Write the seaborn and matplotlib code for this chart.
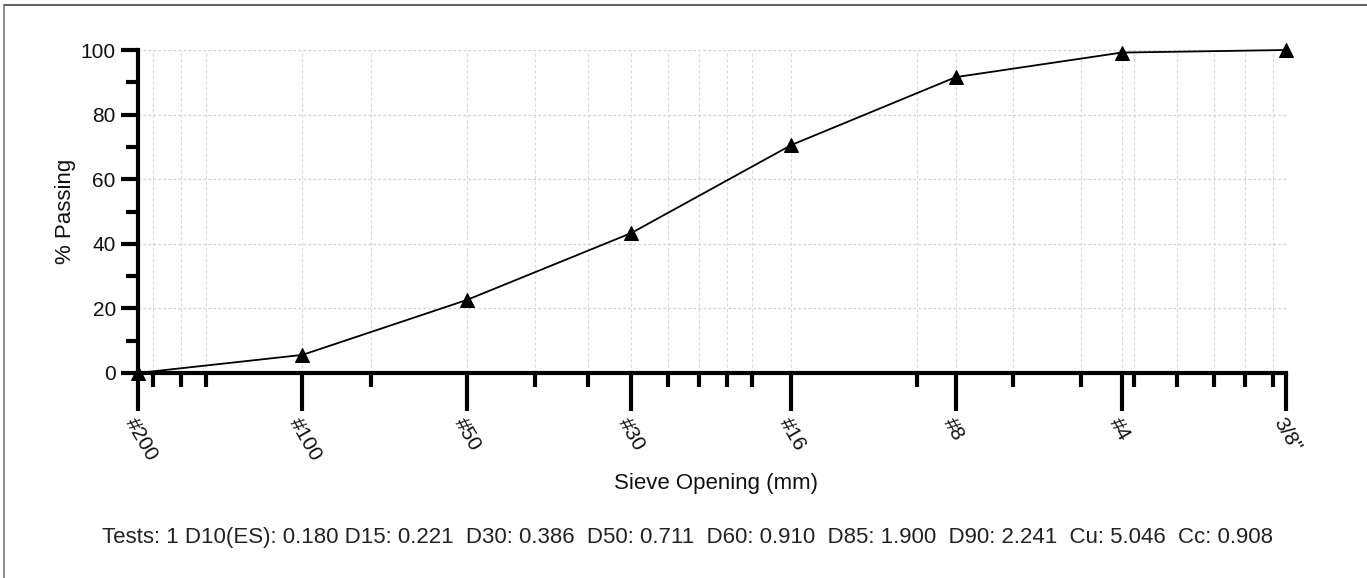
import numpy as np
import pandas as pd
import matplotlib
matplotlib.use('Agg')
import matplotlib.pyplot as plt
import matplotlib.ticker as mticker
import seaborn as sns

# sieve data
sieve_labels = ['#200', '#100', '#50', '#30', '#16', '#8', '#4', '3/8"']
sieve_mm = [0.075, 0.15, 0.3, 0.6, 1.18, 2.36, 4.75, 9.5]
passing = [0.0, 5.6, 22.6, 43.3, 70.6, 91.6, 99.2, 100.0]

footer = ('Tests: 1 D10(ES): 0.180 D15: 0.221  D30: 0.386  D50: 0.711  '
          'D60: 0.910  D85: 1.900  D90: 2.241  Cu: 5.046  Cc: 0.908')

df = pd.DataFrame({'Sieve': sieve_mm, 'Passing': passing})

sns.set_style('white')
plt.rcParams['font.family'] = ['Liberation Sans', 'DejaVu Sans']

fig = plt.figure(figsize=(13.67, 5.78), dpi=100)
ax = fig.add_axes([138 / 1367, 1 - 373 / 578, (1286 - 138) / 1367, (373 - 50) / 578])

sns.lineplot(data=df, x='Sieve', y='Passing', ax=ax, color='black', lw=1.3,
             marker='^', markersize=9.5, markeredgecolor='black', clip_on=False, zorder=5)

ax.set_xscale('log')
ax.set_xlim(sieve_mm[0], sieve_mm[-1])
ax.set_ylim(0, 100)

# x ticks
ax.xaxis.set_major_locator(mticker.FixedLocator(sieve_mm))
ax.xaxis.set_major_formatter(mticker.FixedFormatter(sieve_labels))
ax.xaxis.set_minor_locator(mticker.LogLocator(base=10, subs=np.arange(1, 10)))
ax.xaxis.set_minor_formatter(mticker.NullFormatter())
ax.tick_params(axis='x', which='major', length=27, width=3, direction='out',
               labelsize=15, pad=3, bottom=True, color='black', labelcolor='#111111')
ax.tick_params(axis='x', which='minor', length=10, width=3, direction='out',
               bottom=True, color='black')
for lbl in ax.get_xticklabels():
    lbl.set_rotation(-60)
    lbl.set_ha('left')
    lbl.set_va('top')
    lbl.set_rotation_mode('anchor')

# y ticks
ax.yaxis.set_major_locator(mticker.MultipleLocator(20))
ax.yaxis.set_minor_locator(mticker.MultipleLocator(10))
ax.tick_params(axis='y', which='major', length=12, width=3, direction='out',
               labelsize=15, pad=4, left=True, color='black', labelcolor='#111111')
ax.tick_params(axis='y', which='minor', length=9, width=3, direction='out',
               left=True, color='black')

# grid
ax.grid(True, axis='y', which='major', color='#cfcfcf', ls=(0, (2, 2)), lw=0.9)
ax.grid(True, axis='x', which='both', color='#dadada', ls=(0, (3, 2)), lw=0.8)

for s in ['top', 'right']:
    ax.spines[s].set_visible(False)
for s in ['left', 'bottom']:
    ax.spines[s].set_linewidth(3)
    ax.spines[s].set_color('black')

ax.set_xlabel('')
ax.set_ylabel('% Passing', fontsize=16, color='#111111')
ax.yaxis.set_label_coords(-0.054, 0.5)

fig.text(716 / 1367, 1 - 483 / 578, 'Sieve Opening (mm)', ha='center', va='center',
         fontsize=16, color='#111111')
fig.text(687 / 1367, 1 - 538 / 578, footer, ha='center', va='center', fontsize=16,
         color='#222222')

# frame lines at top and left
fig.add_artist(plt.Line2D([4 / 1367, 1], [1 - 5 / 578, 1 - 5 / 578], color='#444444', lw=1.2))
fig.add_artist(plt.Line2D([4 / 1367, 4 / 1367], [0, 1 - 5 / 578], color='#777777', lw=1.2))

fig.savefig('out.png', dpi=100)
